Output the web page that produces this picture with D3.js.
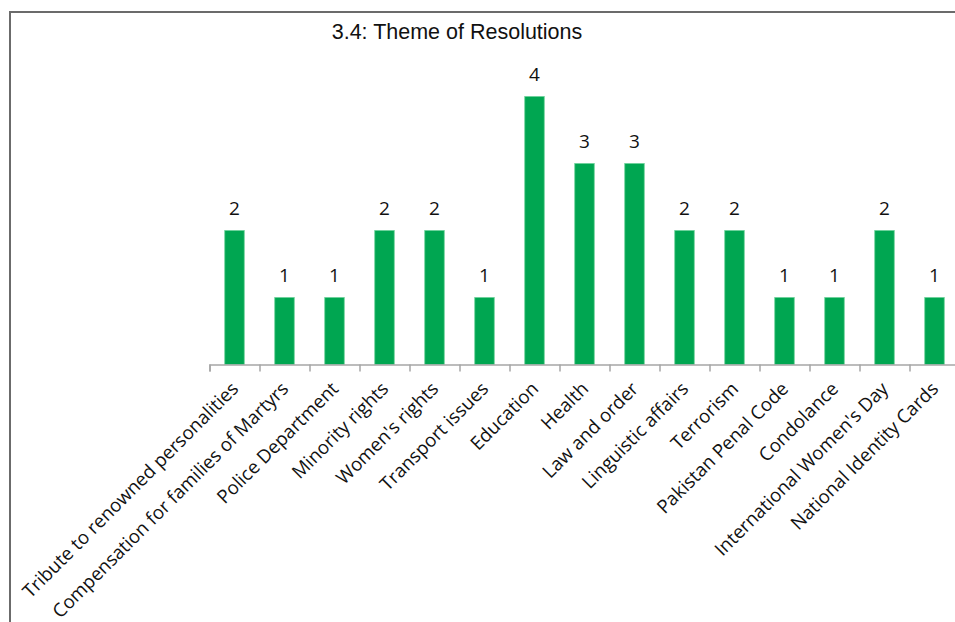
<!DOCTYPE html>
<html>
<head>
<meta charset="utf-8">
<script src="https://cdn.jsdelivr.net/npm/d3@7"></script>
<style>
  body { margin: 0; background: #fff; }
</style>
</head>
<body>
<svg id="chart" width="955" height="622"></svg>
<script>
// chart data
var themes = ["Tribute to renowned personalities", "Compensation for families of Martyrs",
    "Police Department", "Minority rights", "Women's rights", "Transport issues",
    "Education", "Health", "Law and order", "Linguistic affairs", "Terrorism",
    "Pakistan Penal Code", "Condolance", "International Women's Day", "National Identity Cards"];
var counts = [2, 1, 1, 2, 2, 1, 4, 3, 3, 2, 2, 1, 1, 2, 1];
var title = "3.4: Theme of Resolutions";

var svg = d3.select("#chart");

// frame (top and left edges only visible)
svg.append("line").attr("x1", 10).attr("x2", 955).attr("y1", 12).attr("y2", 12)
    .attr("stroke", "#6b6b6b").attr("stroke-width", 2);
svg.append("line").attr("x1", 10).attr("x2", 10).attr("y1", 11).attr("y2", 622)
    .attr("stroke", "#6b6b6b").attr("stroke-width", 2);

svg.append("text")
    .attr("x", 457).attr("y", 39)
    .attr("text-anchor", "middle")
    .attr("font-family", "Liberation Sans, Arial, sans-serif")
    .attr("font-size", 21.5)
    .attr("fill", "#111")
    .text(title);

var step = 50, x0 = 209.5, base = 364.5;

var x = d3.scaleBand().domain(themes).range([x0, x0 + step * themes.length]).padding(0);
var edges = d3.scaleLinear().domain([0, themes.length]).range([x0, x0 + step * themes.length]);
var y = d3.scaleLinear().domain([0, 4]).range([base, base - 4 * 67]);

var barW = 19.5;

svg.append("g").selectAll("rect")
    .data(counts)
    .enter().append("rect")
    .attr("x", function (d, i) { return x(themes[i]) + x.bandwidth() / 2 - barW / 2; })
    .attr("y", function (d) { return y(d); })
    .attr("width", barW)
    .attr("height", function (d) { return y(0) - y(d); })
    .attr("fill", "#00a651")
    .attr("stroke", "#6cd199")
    .attr("stroke-width", 0.8);

svg.append("g").selectAll("text")
    .data(counts)
    .enter().append("text")
    .attr("x", function (d, i) { return x(themes[i]) + x.bandwidth() / 2; })
    .attr("y", function (d) { return y(d) - 15.5; })
    .attr("text-anchor", "middle")
    .attr("font-family", "Open Sans, sans-serif")
    .attr("font-size", 19)
    .attr("fill", "#111")
    .text(function (d) { return d; });

// axis with ticks at band edges
var axis = svg.append("g")
    .attr("transform", "translate(0," + base + ")")
    .call(d3.axisBottom(edges).tickValues(d3.range(themes.length + 1)).tickSize(7).tickFormat(""));
axis.selectAll("path, line").attr("stroke", "#a6a6a6").attr("stroke-width", 1.5);

svg.append("g").selectAll("text")
    .data(themes)
    .enter().append("text")
    .attr("transform", function (d) {
        return "translate(" + (x(d) + x.bandwidth() / 2 + 5) + "," + 390 + ") rotate(-45)";
    })
    .attr("text-anchor", "end")
    .attr("font-family", "Open Sans, sans-serif")
    .attr("font-size", 18.7)
    .attr("fill", "#111")
    .text(function (d) { return d; });
</script>
</body>
</html>
